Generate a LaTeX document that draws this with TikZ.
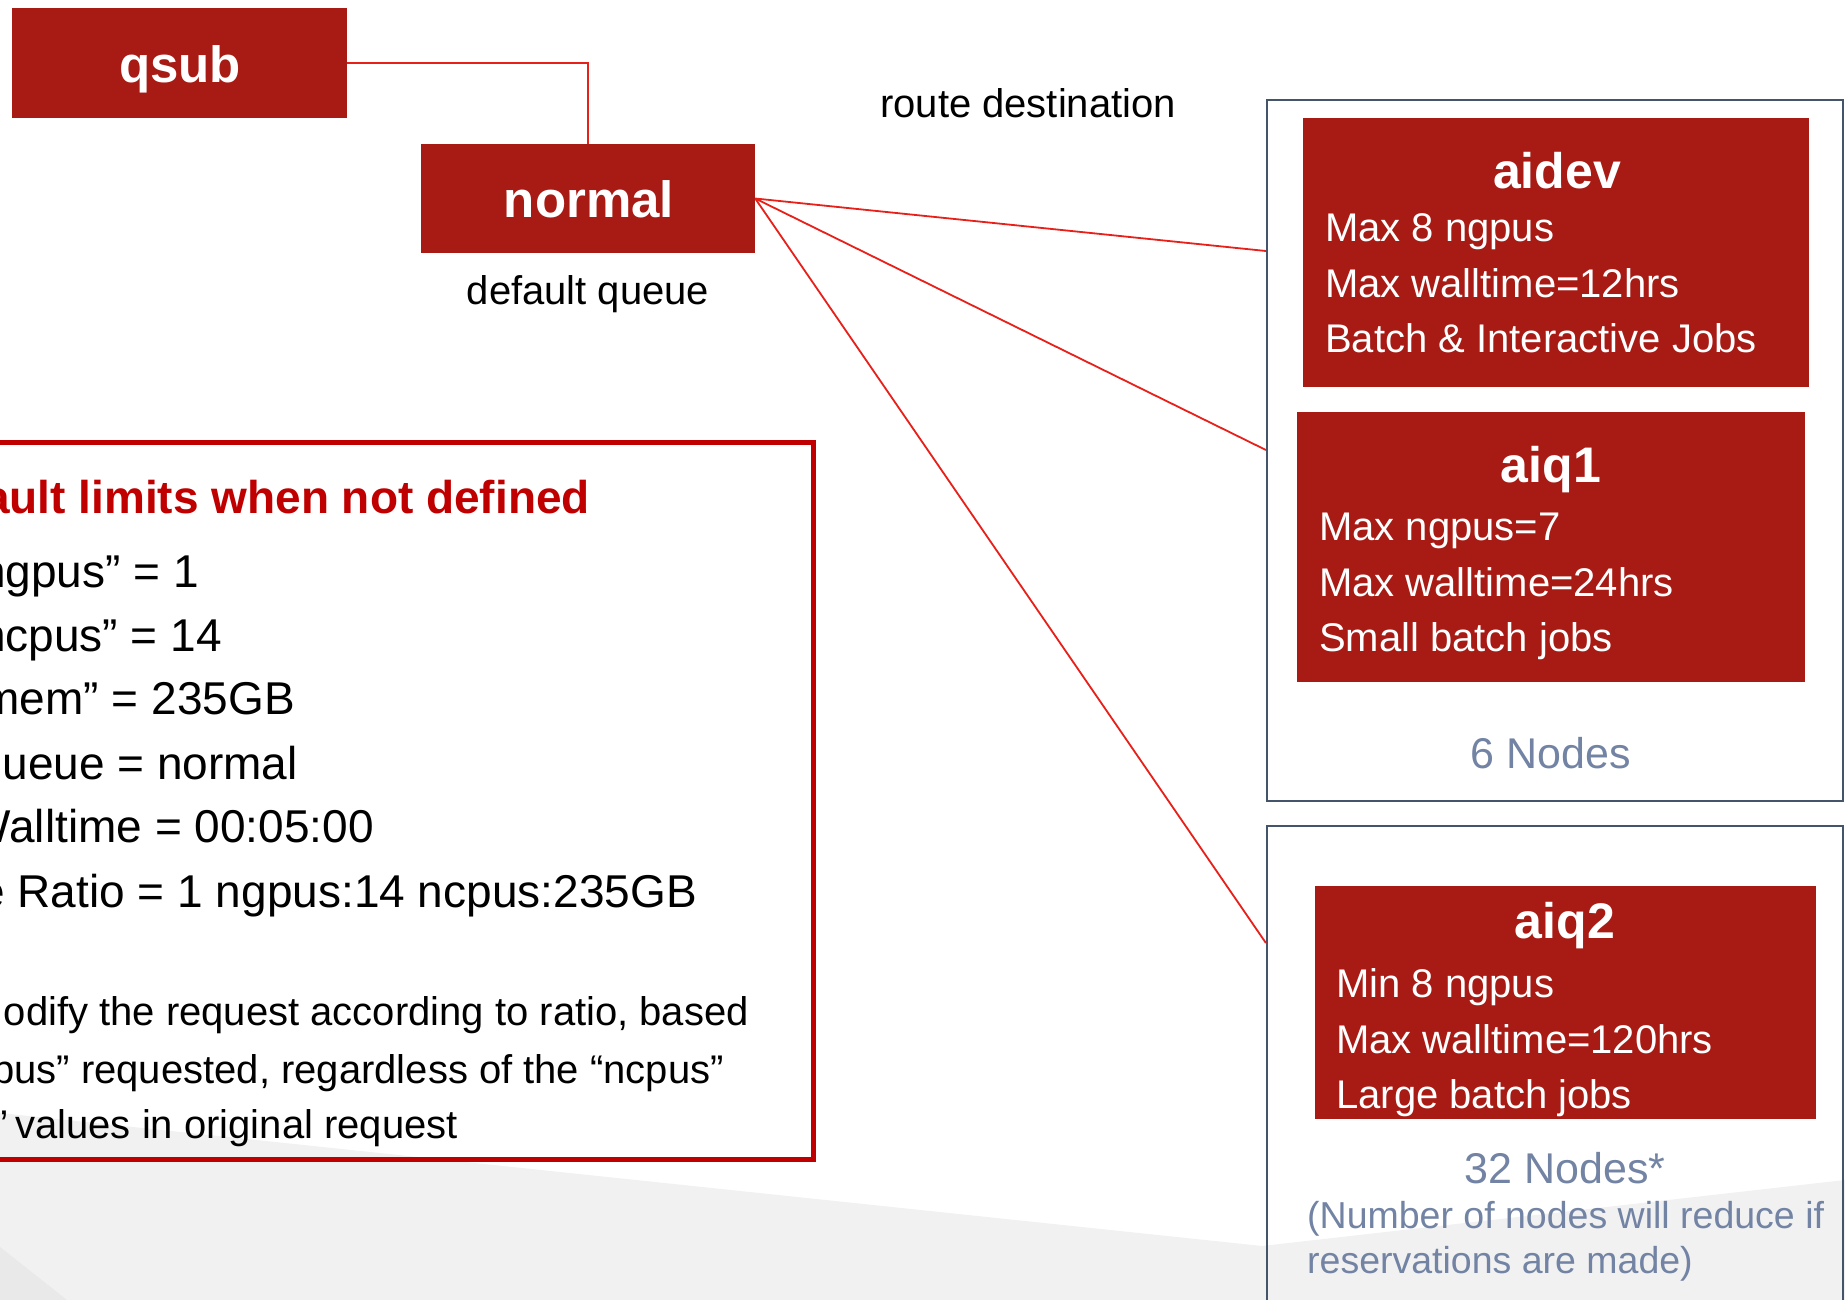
\documentclass[tikz,border=0pt]{standalone}
\usepackage{fontspec}
\setmainfont{Liberation Sans}

\definecolor{queuered}{RGB}{168,26,20}
\definecolor{linkred}{RGB}{232,32,26}
\definecolor{framered}{RGB}{192,0,0}
\definecolor{slate}{RGB}{68,84,106}
\definecolor{nodetext}{RGB}{114,131,164}
\definecolor{bgshade}{RGB}{241,241,241}
\definecolor{bgshadedark}{RGB}{233,233,233}

\begin{document}
\begin{tikzpicture}[x=1pt,y=-1pt,
  qbox/.style 2 args={rectangle, fill=queuered, draw=none, inner sep=0,
    minimum width=#1, minimum height=#2},
  group/.style 2 args={rectangle, draw=slate, line width=2.2pt, inner sep=0,
    minimum width=#1, minimum height=#2},
  link/.style={draw=linkred, line width=1.8pt},
  txt/.style={inner sep=0, font=\fontsize{40}{48}\selectfont},
  bigtxt/.style={inner sep=0, font=\fontsize{46}{55}\selectfont},
  qname/.style={inner sep=0, text=white, font=\fontsize{51}{60}\selectfont\bfseries},
  qtitle/.style={inner sep=0, text=white, font=\fontsize{50}{60}\selectfont\bfseries},
  qline/.style={inner sep=0, text=white, font=\fontsize{40}{48}\selectfont},
  nodecount/.style={inner sep=0, text=nodetext, font=\fontsize{43}{52}\selectfont},
  nodenote/.style={inner sep=0, text=nodetext, font=\fontsize{37.5}{45}\selectfont},
]
\useasboundingbox (0,0) rectangle (1845,1300);
\clip (0,0) rectangle (1845,1300);
\fill[white] (0,0) rectangle (1845,1300);

% soft grey backdrop along the bottom
\fill[bgshade] (0,1113) -- (1262,1246) -- (1845,1180) -- (1845,1300) -- (0,1300) -- cycle;
\fill[bgshadedark] (0,1247) -- (67,1300) -- (0,1300) -- cycle;

% submission and default queue
\node[qbox={335pt}{110pt}] (qsub) at (179.5,63) {};
\node[qname, anchor=base] (qsubtxt) at (180,83) {qsub};
\node[qbox={334pt}{109pt}] (normal) at (588,198.5) {};
\node[qname, anchor=base] (normaltxt) at (589,218) {normal};
\node[txt, anchor=base] (defq) at (588,305) {default queue};
\node[txt, anchor=base west] (route) at (880,118) {route destination};

% default limits panel
\node[rectangle, draw=framered, line width=5pt, inner sep=0,
  minimum width=843.5pt, minimum height=717.5pt] (limits) at (391.75,800.75) {};
\node[inner sep=0, anchor=base east, text=framered,
  font=\fontsize{46}{55}\selectfont\bfseries] (ltitle) at (590,513) {ault limits when not defined};
\node[bigtxt, anchor=base east] (l1) at (199,587) {ngpus” = 1};
\node[bigtxt, anchor=base east] (l2) at (222,651) {ncpus” = 14};
\node[bigtxt, anchor=base east] (l3) at (295,714) {mem” = 235GB};
\node[bigtxt, anchor=base east] (l4) at (298,779) {ueue = normal};
\node[bigtxt, anchor=base east] (l5) at (374,842) {Walltime = 00:05:00};
\node[bigtxt, anchor=base east] (l6) at (697,907) {e Ratio = 1 ngpus:14 ncpus:235GB};
\node[txt, anchor=base east] (l7) at (749,1025) {odify the request according to ratio, based};
\node[txt, anchor=base east] (l8) at (724,1083) {pus” requested, regardless of the “ncpus”};
\node[txt, anchor=base east] (l9) at (458,1138) {”\kern-4pt\ values in original request};

% first group: aidev and aiq1
\node[group={576pt}{701pt}] (grp1) at (1555,450.5) {};
\node[qbox={506pt}{269pt}] (aidev) at (1556,252.5) {};
\node[qtitle, anchor=base] (aidevt) at (1557,189) {aidev};
\node[qline, anchor=base west] (aidev1) at (1325,242) {Max 8 ngpus};
\node[qline, anchor=base west] (aidev2) at (1325,297) {Max walltime=12hrs};
\node[qline, anchor=base west] (aidev3) at (1325,352) {Batch \& Interactive Jobs};

\node[qbox={508pt}{270pt}] (aiq1) at (1551,547) {};
\node[qtitle, anchor=base] (aiq1t) at (1551,482) {aiq1};
\node[qline, anchor=base west] (aiq1a) at (1319,540) {Max ngpus=7};
\node[qline, anchor=base west] (aiq1b) at (1319,596) {Max walltime=24hrs};
\node[qline, anchor=base west] (aiq1c) at (1319,651) {Small batch jobs};
\node[nodecount, anchor=base] (n6) at (1551,768) {6 Nodes};

% second group: aiq2
\node[group={576pt}{514pt}] (grp2) at (1555,1083) {};
\node[qbox={501pt}{233pt}] (aiq2) at (1565.5,1002.5) {};
\node[qtitle, anchor=base] (aiq2t) at (1565,938) {aiq2};
\node[qline, anchor=base west] (aiq2a) at (1336,997) {Min 8 ngpus};
\node[qline, anchor=base west] (aiq2b) at (1336,1053) {Max walltime=120hrs};
\node[qline, anchor=base west] (aiq2c) at (1336,1108) {Large batch jobs};
\node[nodecount, anchor=base] (n32) at (1565,1183) {32 Nodes*};
\node[nodenote, anchor=base west] (note1) at (1307,1228) {(Number of nodes will reduce if};
\node[nodenote, anchor=base west] (note2) at (1307,1273) {reservations are made)};

% routing connectors
\coordinate (in1) at (grp1.west |- 0,251);
\coordinate (in2) at (grp1.west |- 0,450);
\coordinate (in3) at (grp2.west |- 0,943);
\draw[link] (qsub.east) -| (normal.north);
\draw[link] (normal.east) -- (in1);
\draw[link] (normal.east) -- (in2);
\draw[link] (normal.east) -- (in3);
\end{tikzpicture}
\end{document}
